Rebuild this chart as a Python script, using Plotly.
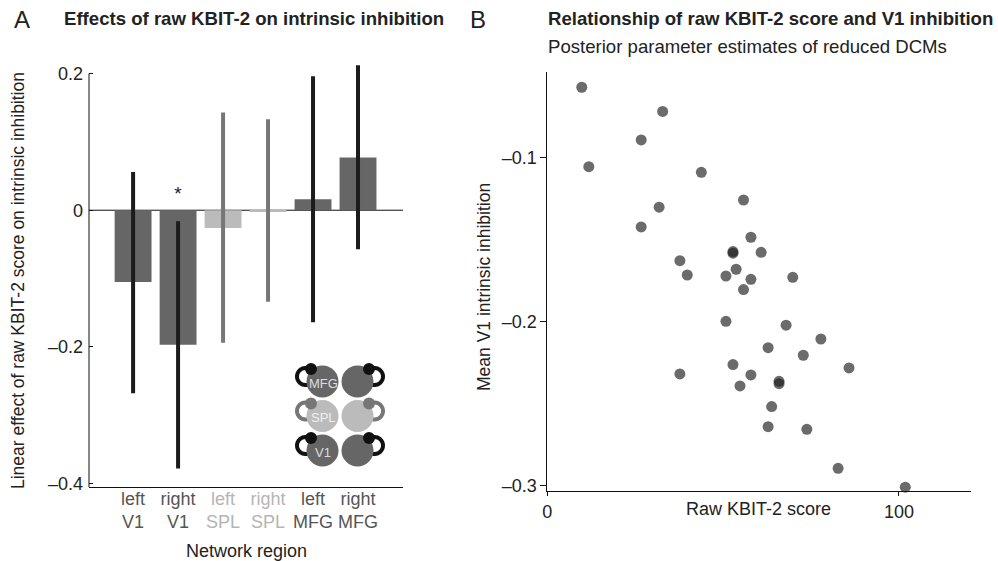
import numpy as np
import plotly.graph_objects as go

# ---------------- data ----------------
region_side = ["left", "right", "left", "right", "left", "right"]
region_name = ["V1", "V1", "SPL", "SPL", "MFG", "MFG"]
effect = [-0.105, -0.197, -0.026, -0.002, 0.016, 0.077]
ci_high = [0.056, -0.016, 0.143, 0.133, 0.196, 0.212]
ci_low = [-0.268, -0.378, -0.194, -0.134, -0.164, -0.057]
significant = [False, True, False, False, False, False]

kbit_score = [9.8, 32.8, 26.7, 11.8, 43.8, 55.8, 31.8, 26.7, 57.9, 52.8,
              52.8, 60.8, 37.7, 53.7, 39.8, 50.8, 57.9, 69.8, 55.8, 50.8,
              67.9, 77.8, 62.8, 72.8, 52.8, 37.7, 57.9, 85.8, 65.9, 65.9,
              54.8, 63.8, 62.8, 73.8, 82.7, 101.8]
v1_inhibition = [-0.0571, -0.0718, -0.0892, -0.1055, -0.1089, -0.1258, -0.1302, -0.1422, -0.1485, -0.1572,
                 -0.1582, -0.1577, -0.1628, -0.1680, -0.1715, -0.1721, -0.1741, -0.1729, -0.1804, -0.1997,
                 -0.2021, -0.2105, -0.2158, -0.2204, -0.2261, -0.2318, -0.2324, -0.2281, -0.2363, -0.2377,
                 -0.2391, -0.2517, -0.2639, -0.2655, -0.2893, -0.3008]

a_yticks = [0.2, 0, -0.2, -0.4]
b_xticks = [0, 100]
b_yticks = [-0.1, -0.2, -0.3]

# ---------------- styling ----------------
FONT = "Liberation Sans, Arial, Helvetica, sans-serif"
W, H = 998, 561
bar_color = {"V1": "#666666", "SPL": "#bbbbbb", "MFG": "#666666"}
err_color = {"V1": "#1c1c1c", "SPL": "#777777", "MFG": "#1c1c1c"}
label_color = {"V1": "#555555", "SPL": "#b5b5b5", "MFG": "#555555"}


def px(x):
    return x / W


def py(y):
    return 1 - y / H


fig = go.Figure()

# Panel A bars, one trace per region so every error bar can have its colour
for i, (side, name) in enumerate(zip(region_side, region_name)):
    v = effect[i]
    fig.add_trace(go.Bar(
        x=[i], y=[v], width=0.82,
        marker=dict(color=bar_color[name], line=dict(width=0)),
        error_y=dict(type="data", symmetric=False,
                     array=[ci_high[i] - v], arrayminus=[v - ci_low[i]],
                     color=err_color[name], thickness=4, width=0),
        xaxis="x", yaxis="y", cliponaxis=False, showlegend=False,
    ))

# significance star
sig_x = [i for i, s in enumerate(significant) if s]
fig.add_trace(go.Scatter(
    x=sig_x, y=[0.022] * len(sig_x), mode="text", text=["*"] * len(sig_x),
    textfont=dict(family=FONT, size=19, color="#222222"),
    xaxis="x", yaxis="y", showlegend=False, cliponaxis=False,
))

# Panel B scatter
fig.add_trace(go.Scatter(
    x=kbit_score, y=v1_inhibition, mode="markers",
    marker=dict(size=11, color="rgba(27,27,27,0.65)", line=dict(width=0)),
    xaxis="x2", yaxis="y2", showlegend=False, cliponaxis=False,
))

ticktext = []
for side, name in zip(region_side, region_name):
    c = label_color[name]
    ticktext.append(f"<span style='color:{c}'>{side}</span><br><span style='color:{c}'>{name}</span>")

axis_common = dict(showgrid=False, zeroline=False, linecolor="#111111", linewidth=1, automargin=False,
                   tickcolor="#111111", tickfont=dict(family=FONT, size=18, color="#222222"))

fig.update_layout(
    width=W, height=H,
    margin=dict(l=0, r=0, t=0, b=0, autoexpand=False),
    paper_bgcolor="white", plot_bgcolor="rgba(0,0,0,0)",
    barmode="overlay", showlegend=False,
    font=dict(family=FONT, size=18, color="#222222"),
    xaxis=dict(domain=[px(89), px(403)], range=[-0.98, 6.0], anchor="y",
               tickvals=list(range(len(region_side))), ticktext=ticktext,
               ticks="", showline=True, ticklabelstandoff=-5, **axis_common),
    yaxis=dict(domain=[py(487), py(60)], range=[-0.405, 0.2198], anchor="x",
               tickvals=a_yticks, ticktext=["0.2", "0", "\u20130.2", "\u20130.4"],
               ticks="inside", ticklen=4, showline=False, ticklabelstandoff=5, **axis_common),
    xaxis2=dict(domain=[px(547.3), px(970.7)], range=[0, 120.4], anchor="y2",
                tickvals=b_xticks, ticks="outside", ticklen=4, showline=True, **axis_common),
    yaxis2=dict(domain=[py(491.3), py(72)], range=[-0.3033, -0.0478], anchor="x2",
                tickvals=b_yticks, ticktext=["\u20130.1", "\u20130.2", "\u20130.3"],
                ticks="outside", ticklen=6, showline=True, **axis_common),
)

shapes = []
# zero line and partial y axis line of panel A
shapes.append(dict(type="line", xref="x domain", yref="y", x0=0, x1=1, y0=0, y1=0,
                   line=dict(color="#111111", width=1), layer="below"))
shapes.append(dict(type="line", xref="x domain", yref="y", x0=0, x1=0, y0=-0.405, y1=0.2,
                   line=dict(color="#111111", width=1), layer="above"))

# ---------------- inset network diagram (decoration, pixel geometry) ----------------
rows = [("MFG", 381.5, "#666666", "#111111"),
        ("SPL", 416.0, "#bbbbbb", "#777777"),
        ("V1", 450.5, "#666666", "#111111")]
cols = [322.5, 357.5]
R = 16
arc_shapes, circ_shapes, dot_shapes = [], [], []
for name, cy, fill, loop in rows:
    for k, cx in enumerate(cols):
        sgn = -1 if k == 0 else 1
        ax, ay, ar = cx + sgn * 17, cy - 5, 8.5
        if k == 0:
            th = np.radians(np.linspace(60, 300, 30))
        else:
            th = np.radians(np.linspace(120, -120, 30))
        pts = [(px(ax + ar * np.cos(t)), py(ay - ar * np.sin(t))) for t in th]
        path = "M " + " L ".join(f"{a:.5f},{b:.5f}" for a, b in pts)
        arc_shapes.append(dict(type="path", xref="paper", yref="paper", path=path,
                               line=dict(color=loop, width=4), layer="above"))
        circ_shapes.append(dict(type="circle", xref="paper", yref="paper",
                                x0=px(cx - R), x1=px(cx + R), y0=py(cy + R), y1=py(cy - R),
                                fillcolor=fill, line=dict(width=0), layer="above"))
        dx = cx + sgn * 11.5
        dy = cy - 12.5
        dot_shapes.append(dict(type="circle", xref="paper", yref="paper",
                               x0=px(dx - 6), x1=px(dx + 6), y0=py(dy + 6), y1=py(dy - 6),
                               fillcolor=loop, line=dict(width=0), layer="above"))
shapes += arc_shapes + circ_shapes + dot_shapes
fig.update_layout(shapes=shapes)

ann = []


def text(x, y, s, size=18, bold=False, xanchor="center", angle=0, color="#222222"):
    ann.append(dict(x=px(x), y=py(y), xref="paper", yref="paper", text=f"<b>{s}</b>" if bold else s,
                    showarrow=False, xanchor=xanchor, yanchor="middle", textangle=angle,
                    font=dict(family=FONT, size=size, color=color)))


text(12, 20, "A", size=24, xanchor="left")
text(254, 18, "Effects of raw KBIT-2 on intrinsic inhibition", size=18.6, bold=True)
text(468, 20, "B", size=24, xanchor="left")
text(546, 18, "Relationship of raw KBIT-2 score and V1 inhibition", size=18.6, bold=True, xanchor="left")
text(546, 47, "Posterior parameter estimates of reduced DCMs", size=18.6, xanchor="left")
text(18, 281, "Linear effect of raw KBIT-2 score on intrinsic inhibition", size=17.5, angle=-90)
text(246, 551, "Network region", size=18)
text(484, 287, "Mean V1 intrinsic inhibition", size=17.5, angle=-90)
text(758, 509, "Raw KBIT-2 score", size=18)
# inset labels
for name, cy, fill, loop in rows:
    text(cols[0] + 0.5, cy + 1.5, name, size=13, color="#f0f0f0" if name == "SPL" else "#dddddd")

fig.update_layout(annotations=ann)

fig.write_html("out.html", config={"displayModeBar": False},
               post_script="document.body.style.margin='0px';document.body.style.padding='0px';")
